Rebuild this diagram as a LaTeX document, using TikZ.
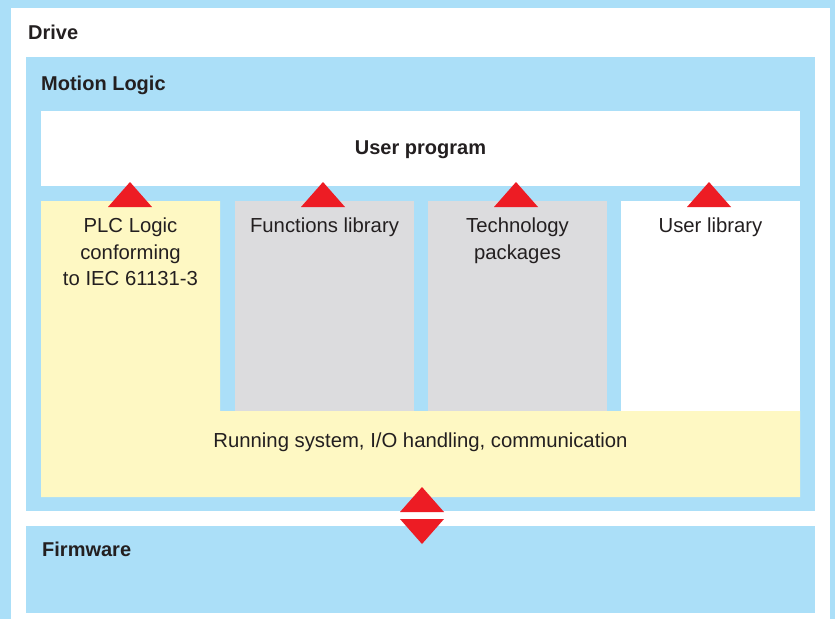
\documentclass[tikz,border=0pt]{standalone}
\usepackage{fontspec}
\setmainfont{Liberation Sans}
\definecolor{skyb}{HTML}{ABDFF8}
\definecolor{paley}{HTML}{FEF8C3}
\definecolor{lgray}{HTML}{DCDCDE}
\definecolor{redt}{HTML}{ED1C24}
\definecolor{txt}{HTML}{231F20}
\tikzset{
  ttl/.style={font=\fontsize{20}{23}\selectfont\bfseries, text=txt, inner sep=0pt},
  lbl/.style={font=\fontsize{20.3}{26.5}\selectfont, text=txt, align=center, inner sep=0pt},
  tri/.style={fill=redt},
}
\begin{document}
\begin{tikzpicture}[x=1pt,y=-1pt]
\useasboundingbox (0,0) rectangle (835,619);
\fill[skyb] (0,0) rectangle (835,619);
% Drive
\fill[white] (11,8) rectangle (830,619);
% Motion logic
\fill[skyb] (26,57) rectangle (815,511);
% Firmware
\fill[skyb] (26,526) rectangle (815,613);
% User program
\fill[white] (41,111) rectangle (800,186);
% PLC + running system
\fill[paley] (41,201) -- (220,201) -- (220,411) -- (800,411) -- (800,497) -- (41,497) -- cycle;
\fill[lgray] (235,201) rectangle (414,411);
\fill[lgray] (428,201) rectangle (607,411);
\fill[white] (621,201) rectangle (800,411);

\node[ttl, anchor=base west] (drive) at (28,39) {Drive};
\node[ttl, anchor=base west] (motion) at (41,90) {Motion Logic};
\node[ttl, anchor=base] (user) at (420.5,154) {User program};
\node[ttl, anchor=base west] (firm) at (42,556) {Firmware};

\node[lbl, anchor=north] (plc) at (130.5,218) {PLC Logic\\conforming\\to IEC 61131-3};
\node[lbl, anchor=north] (func) at (324.5,218) {Functions library};
\node[lbl, anchor=north] (tech) at (517.5,218) {Technology\\packages};
\node[lbl, anchor=north] (ulib) at (710.5,218) {User library};
\node[lbl, anchor=base] (run) at (420.5,447) {Running system, I/O handling, communication};

\foreach \cx in {130,323,516,709}{
  \fill[tri] (\cx-22,207) -- (\cx+22,207) -- (\cx,182) -- cycle;
}
\fill[tri] (400,512) -- (444,512) -- (422,487) -- cycle;
\fill[tri] (400,519) -- (444,519) -- (422,544) -- cycle;
\end{tikzpicture}
\end{document}
